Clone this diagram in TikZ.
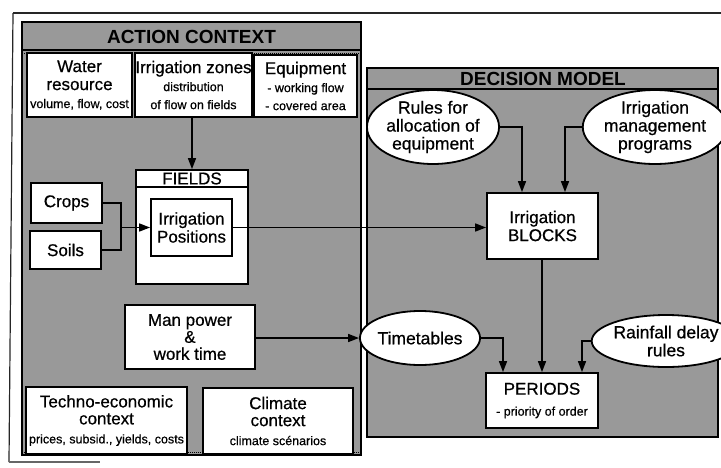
\documentclass[tikz,border=0pt]{standalone}
\usepackage{fontspec}
\setmainfont{Liberation Sans}
\newfontfamily\heavyfam{Liberation Sans}[FakeBold=0.6]
\usetikzlibrary{arrows.meta,shapes.geometric}

\newcommand{\bigf}{\heavyfam\fontsize{17}{19}\selectfont}
\newcommand{\ovalf}{\heavyfam\fontsize{17.5}{18}\selectfont}
\newcommand{\smallf}{\heavyfam\fontsize{12.5}{15}\selectfont}
\newcommand{\headf}{\fontsize{19}{20}\selectfont\bfseries}

\tikzset{
  panel/.style={draw=black, line width=2pt, fill=black!40},
  box/.style={draw=black, line width=1.8pt, fill=white, inner sep=0pt,
    align=center, font=\bigf},
  oval/.style={ellipse, draw=black, line width=1.8pt, fill=white, inner sep=0pt,
    align=center, font=\ovalf},
  link/.style={line width=1.6pt, -{Triangle[length=11pt,width=8pt]}},
  plain/.style={line width=1.6pt},
  frame/.style={line width=1.2pt, black!85}
}

\begin{document}
\begin{tikzpicture}[x=1pt, y=-1pt]
\useasboundingbox (0,0) rectangle (721,467);

% outer frame
\draw[frame] (13,13) -- (721,13);
\draw[frame] (13,13) -- (9,462);
\draw[frame, black!60] (9,462) -- (100,462);

% action context panel
\draw[panel] (22,22) rectangle (361,455);
\draw[line width=1.6pt] (22,50) -- (361,50);
\draw[densely dotted, line width=1pt] (22,53) -- (361,53);
\draw[densely dotted, line width=1pt] (22,452) -- (361,452);
\node[font=\headf] (actiontitle) at (191.5,36.5) {ACTION CONTEXT};

% decision model panel
\draw[panel] (367,68) rectangle (718,437);
\draw[line width=1.6pt] (367,89) -- (718,89);
\node[font=\headf] (decisiontitle) at (543,78.5) {DECISION MODEL};

% action context contents
\node[box, minimum width=105, minimum height=64] (water) at (79.5,85)
  {Water\\[-1pt]resource\\[-1pt]{\smallf volume, flow, cost}};
\node[box, minimum width=113, minimum height=64] (zones) at (193.5,85)
  {Irrigation zones\\[-1pt]{\smallf distribution}\\[-1pt]{\smallf of flow on fields}};
\node[box, minimum width=103, minimum height=62] (equip) at (305.5,86)
  {Equipment\\[-1pt]{\smallf - working flow}\\[-1pt]{\smallf - covered area}};

\node[box, minimum width=112, minimum height=114] (fields) at (192,227) {};
\draw[line width=1.8pt] (fields.west |- 0,187) -- (fields.east |- 0,187);
\node[font=\bigf] (fieldstitle) at (192,178.5) {FIELDS};
\node[box, minimum width=81, minimum height=57] (pos) at (191.5,227.5)
  {Irrigation\\[-1pt]Positions};

\node[box, minimum width=71, minimum height=40] (crops) at (66.5,203) {Crops};
\node[box, minimum width=71, minimum height=38] (soils) at (65.5,250) {Soils};

\node[box, minimum width=130, minimum height=64] (man) at (190,337)
  {Man power\\[-2pt]\&\\[-2pt]work time};

\node[box, minimum width=161, minimum height=67] (techno) at (106.5,420.5)
  {Techno-economic\\[-2pt]context\\[0pt]{\smallf prices, subsid., yields, costs}};
\node[box, minimum width=150, minimum height=66] (climate) at (278,421)
  {Climate\\[-2pt]context\\[0pt]{\smallf climate scénarios}};

% decision model contents
\node[oval, minimum width=113, minimum height=61] (rules) at (433,127)
  {Rules for\\allocation of\\equipment};
\node[oval, minimum width=114, minimum height=61] (progs) at (655,127)
  {Irrigation\\management\\programs};
\node[box, minimum width=111, minimum height=66] (blocks) at (542.5,226)
  {Irrigation\\[-1pt]BLOCKS};
\node[oval, minimum width=99, minimum height=54] (time) at (420,338) {Timetables};
\node[oval, minimum width=103, minimum height=52] (rain) at (666,341)
  {Rainfall delay\\rules};
\node[box, minimum width=112, minimum height=55] (periods) at (542,400.5)
  {PERIODS\\[2pt]{\smallf - priority of order}};

% connectors
\draw[link] (zones.south -| 192,0) -- (192,0 |- fields.north);
\coordinate (merge) at (121,227.5);
\draw[plain] (crops.east) -| (merge);
\draw[plain] (soils.east) -| (merge);
\draw[link] (merge) -- (pos.west);
\draw[link] (pos.east) -- (pos.east -| blocks.west);
\draw[link] (man.east |- 0,338) -- (time.west);

\draw[link] (rules.east) -| ([xshift=-20.5pt]blocks.north);
\draw[link] (progs.west) -| ([xshift=22.5pt]blocks.north);
\draw[link] (blocks.south -| periods.north) -- (periods.north);
\draw[link] (time.east) -| ([xshift=-39pt]periods.north);
\draw[link] (rain.west) -| ([xshift=40pt]periods.north);
\end{tikzpicture}
\end{document}
